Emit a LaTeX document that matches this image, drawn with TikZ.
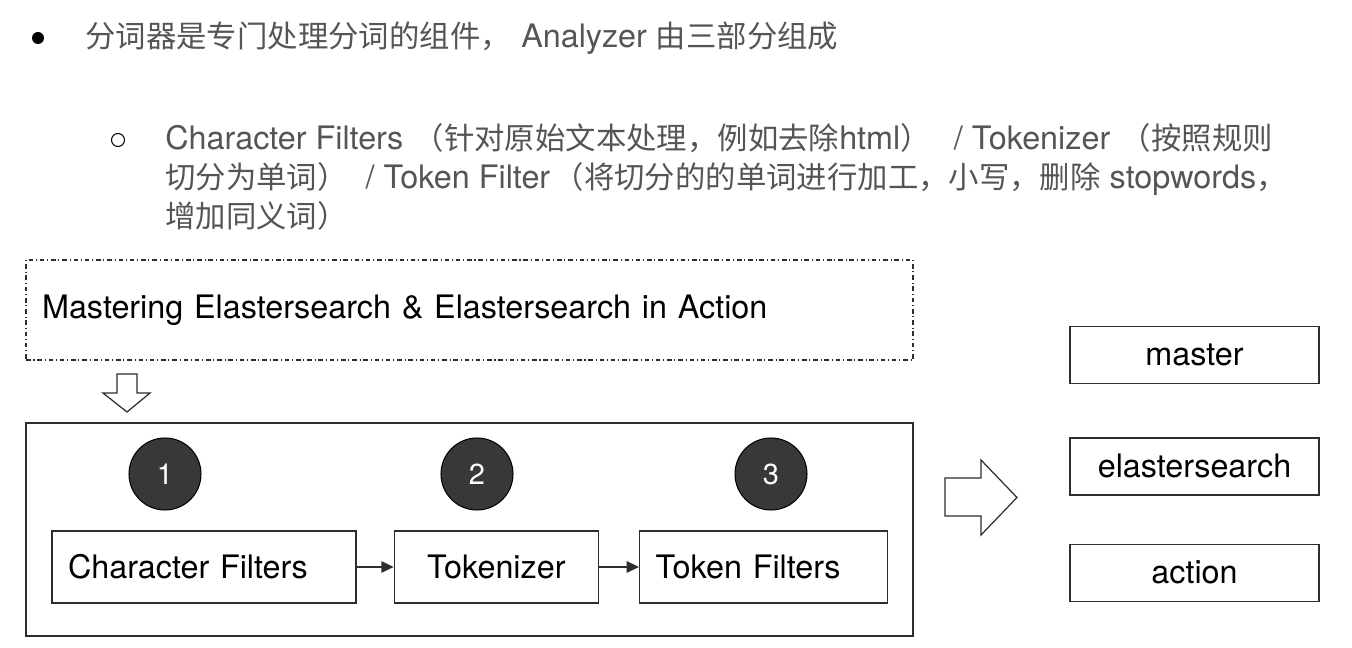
\documentclass[tikz,border=0pt]{standalone}
\usepackage{fontspec}
\setmainfont{TeX Gyre Heros}
\newfontfamily\cjk{Noto Sans CJK SC}[Scale=0.94]
\usepackage{xcolor}
\usetikzlibrary{arrows.meta, positioning}
\definecolor{textgray}{HTML}{555555}
\definecolor{linegray}{HTML}{2E2E2E}
\definecolor{dotfill}{HTML}{383838}
\tikzstyle{part} = [rectangle, minimum height=1.44cm, inner xsep=0.32cm, align=left, draw=linegray, line width=0.8pt, font=\fontsize{18.4}{21}\selectfont]
\tikzstyle{term} = [rectangle, minimum width=4.98cm, minimum height=1.14cm, text centered, draw=linegray, line width=0.8pt, font=\fontsize{18.4}{21}\selectfont]
\tikzstyle{badge} = [circle, minimum size=1.44cm, fill=dotfill, draw=black, line width=0.6pt, text=white, font=\fontsize{16.5}{18}\selectfont]
\tikzstyle{frame} = [rectangle, minimum width=17.74cm, draw=linegray, line width=0.8pt]
\tikzstyle{arrow} = [line width=0.8pt,->,>={Triangle[length=7pt,width=6.5pt]}, draw=linegray]
\tikzstyle{hollow} = [draw=linegray, line width=0.7pt, fill=white]

\begin{document}
\begin{tikzpicture}[x=0.02cm, y=-0.02cm]
        \useasboundingbox (0,0) rectangle (1352,648);
        % Text
        \node (dot1) [circle, fill=black, inner sep=0pt, minimum size=0.24cm] at (38,38) {};
        \node (intro) [anchor=base west, inner sep=0pt, text=textgray, font=\fontsize{18.4}{22}\selectfont] at (85,48) {{\cjk 分词器是专门处理分词的组件，}\kern6pt Analyzer {\cjk 由三部分组成}};
        \node (dot2) [circle, draw=black, line width=0.6pt, inner sep=0pt, minimum size=0.26cm] at (118,140) {};
        \node (detail) [anchor=base west, inner sep=0pt, align=left, text=textgray, font=\fontsize{18.4}{22.2}\selectfont] at (165,228) {Character Filters\kern6pt{\cjk（针对原始文本处理，例如去除}html{\cjk）}\ \ \kern3pt/ Tokenizer\kern6pt{\cjk（按照规则}\\{\cjk 切分为单词）}\ \ / Token Filter\kern2pt{\cjk（将切分的的单词进行加工，小写，删除} stopwords{\cjk，}\\{\cjk 增加同义词）}};

        % Nodes
        \node (title) [frame, minimum height=2cm, inner xsep=0.32cm, text width=17.1cm, align=left, dash pattern=on 2.6pt off 1.6pt on 0.6pt off 1.6pt, font=\fontsize{18.4}{21}\selectfont] at (469.5,310) {Mastering Elastersearch \& Elastersearch in Action};
        \node (analyzer) [frame, minimum height=4.26cm] at (469.5,529.5) {};

        \node (chars) [part, text width=5.44cm] at (204,567) {Character Filters};
        \node (tok) [part, text width=3.44cm, align=center, right=0.74cm of chars] {Tokenizer};
        \node (filters) [part, text width=4.32cm, right=0.8cm of tok] {Token Filters};

        \node (one) [badge] at (165,474) {1};
        \node (two) [badge] at (477,474) {2};
        \node (three) [badge] at (771,474) {3};

        \node (master) [term] at (1194.5,355) {master};
        \node (es) [term, below=1.06cm of master] {elastersearch};
        \node (action) [term, below=0.96cm of es] {action};

        % Arrows
        \draw [arrow] (chars) -- (tok);
        \draw [arrow] (tok) -- (filters);

        % Block arrows
        \draw [hollow] (117,374) -- (137,374) -- (137,393) -- (150,393) -- (127,412) -- (103,393) -- (117,393) -- cycle;
        \draw [hollow] (945,478) -- (981,478) -- (981,460) -- (1017,497.5) -- (981,535) -- (981,516) -- (945,516) -- cycle;
    \end{tikzpicture}
\end{document}
